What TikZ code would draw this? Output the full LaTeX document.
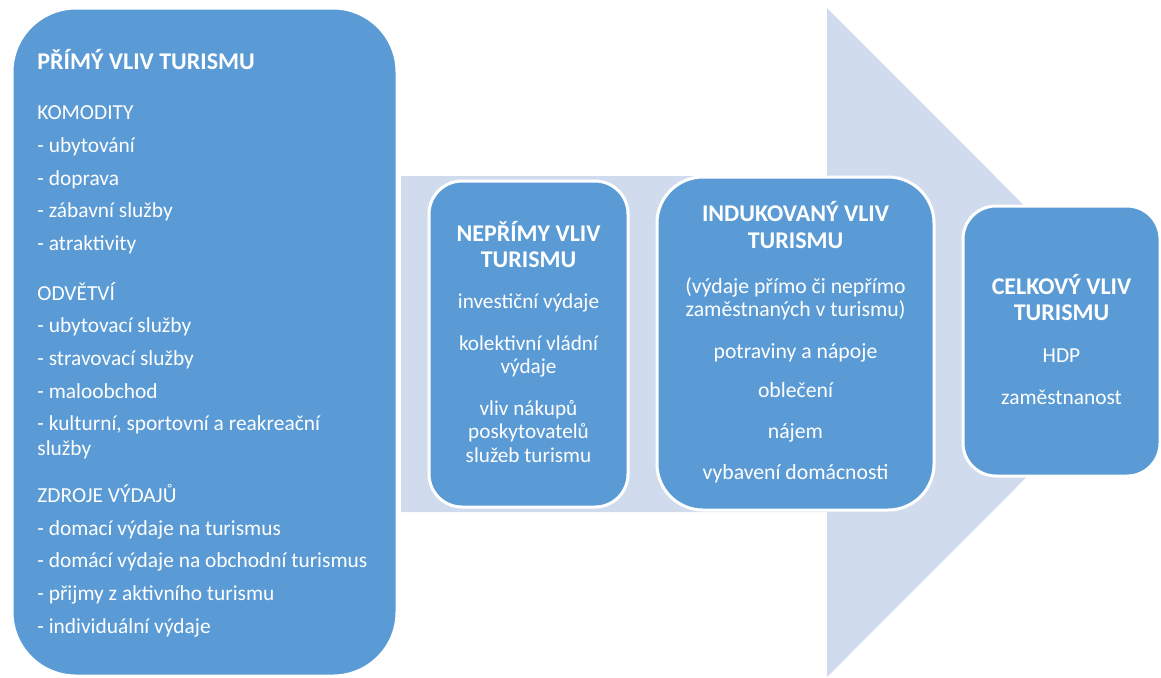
\documentclass[tikz,border=0pt]{standalone}
\usepackage{fontspec}
\setmainfont{Carlito}
\usetikzlibrary{fit}
\definecolor{boxblue}{RGB}{91,155,213}
\definecolor{arrowblue}{RGB}{208,220,238}
\newcommand\headtext[1]{{\fontsize{12}{13}\selectfont\bfseries #1}}

\begin{document}
\begin{tikzpicture}[x=0.5pt, y=-0.5pt,
  box/.style={fill=boxblue, draw=white, line width=1.5pt, inner sep=0pt},
  txt/.style={text=white, inner sep=0pt, font=\fontsize{10.7}{12.5}\selectfont}]
\useasboundingbox (0,0) rectangle (1161,677);
% background arrow
\fill[arrowblue] (401,176) -- (827,176) -- (827,8) -- (1161,342.5) -- (827,677) -- (827,512) -- (401,512) -- cycle;
% the four boxes
\node[box, rounded corners=32pt, fit={(12,8) (397,676)}] (direct) {};
\node[box, rounded corners=16.5pt, fit={(429,181) (628,507)}] (indirect) {};
\node[box, rounded corners=23pt, fit={(657,177) (934,510)}] (induced) {};
\node[box, rounded corners=16.5pt, fit={(963,206) (1160,476)}] (total) {};
% texts (base = baseline of the last line)
\node[txt, align=left, anchor=base west] (directtext) at (37,633) {\headtext{PŘÍMÝ VLIV TURISMU}\\[12.5pt]
  KOMODITY\\[3.8pt] - ubytování\\[3.8pt] - doprava\\[3.8pt] - zábavní služby\\[3.8pt] - atraktivity\\[12.5pt]
  ODVĚTVÍ\\[3.8pt] - ubytovací služby\\[3.8pt] - stravovací služby\\[3.8pt] - maloobchod\\[3.8pt]
  - kulturní, sportovní a reakreační\\ služby\\[11pt]
  ZDROJE VÝDAJŮ\\[3.8pt] - domací výdaje na turismus\\[3.8pt] - domácí výdaje na obchodní turismus\\[3.8pt]
  - přijmy z aktivního turismu\\[3.8pt] - individuální výdaje};
\node[txt, font=\fontsize{10.6}{11.75}\selectfont, align=center, anchor=base] (indirecttext) at (528.5,462) {\headtext{NEPŘÍMY VLIV}\\[1.25pt] \headtext{TURISMU}\\[9pt]
  investiční výdaje\\[9pt] kolektivní vládní\\ výdaje\\[9pt] vliv nákupů\\ poskytovatelů\\ služeb turismu};
\node[txt, font=\fontsize{10.85}{11.2}\selectfont, align=center, anchor=base] (inducedtext) at (795.5,479) {\headtext{INDUKOVANÝ VLIV}\\[2.3pt] \headtext{TURISMU}\\[11.3pt]
  (výdaje přímo či nepřímo\\ zaměstnaných v turismu)\\[9.8pt] potraviny a nápoje\\[8.3pt] oblečení\\[9.3pt] nájem\\[9.3pt] vybavení domácnosti};
\node[txt, align=center, anchor=base] (totaltext) at (1061.5,404) {\headtext{CELKOVÝ VLIV}\\[0.5pt] \headtext{TURISMU}\\[8.5pt]
  HDP\\[8.5pt] zaměstnanost};
\end{tikzpicture}
\end{document}
